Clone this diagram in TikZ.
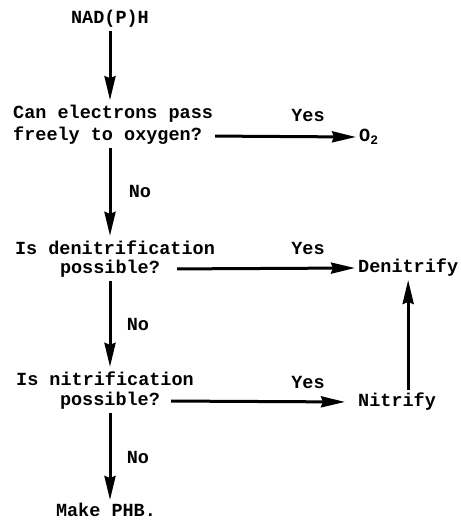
\documentclass[tikz,border=0pt]{standalone}
\usepackage{fontspec}
\setmonofont{Liberation Mono}
\usetikzlibrary{arrows.meta}
\tikzset{
  txt/.style={inner sep=3pt,font=\ttfamily\bfseries\fontsize{18.5}{21}\selectfont},
  arr/.style={line width=3pt,-{Stealth[length=24pt,width=11pt,inset=2pt]}}
}
\begin{document}
\begin{tikzpicture}[x=1pt,y=-1pt]
                    \useasboundingbox (0,0) rectangle (461,520);
                    %NODE
                    \node[txt] (nad) at (110,19){NAD(P)H};
                    \node[txt,anchor=west] (q1a) at (10,114){Can electrons pass};
                    \node[txt,anchor=west] (q1b) at (10,136){freely to oxygen?};
                    \node[txt,anchor=west] (o2) at (356,137){O\textsubscript{2}};
                    \node[txt] (y1) at (308,115){Yes};
                    \node[txt] (no1) at (140,191){No};
                    \node[txt] (q2a) at (115,248){Is denitrification};
                    \node[txt] (q2b) at (110,269){possible?};
                    \node[txt,anchor=west] (den) at (355,268){Denitrify};
                    \node[txt] (y2) at (308,248){Yes};
                    \node[txt] (no2) at (138,324){No};
                    \node[txt] (q3a) at (105,379){Is nitrification};
                    \node[txt] (q3b) at (110,401){possible?};
                    \node[txt,anchor=west] (nit) at (355,402){Nitrify};
                    \node[txt] (y3) at (308,382){Yes};
                    \node[txt] (no3) at (138,457){No};
                    \node[txt] (phb) at (106,510){Make PHB.};

                    %EDGE
                    \draw[arr,shorten >=2pt] (nad.south) -- (nad.south |- q1a.north);
                    \draw[arr,shorten <=10pt] (q1b.east) -- (o2.west);
                    \draw[arr,shorten >=2pt] (q1b.south -| nad) -- (nad |- q2a.north);
                    \draw[arr,shorten <=14pt] (q2b.east) -- (den.west);
                    \draw[arr,shorten >=2pt] (q2b.south -| nad) -- (nad |- q3a.north);
                    \draw[arr,shorten <=8pt,shorten >=10pt] (q3b.east) -- (nit.west);
                    \draw[arr] (nit.north -| den.south) -- (den.south);
                    \draw[arr] (q3b.south -| nad) -- (nad |- phb.north);
                \end{tikzpicture}
\end{document}
